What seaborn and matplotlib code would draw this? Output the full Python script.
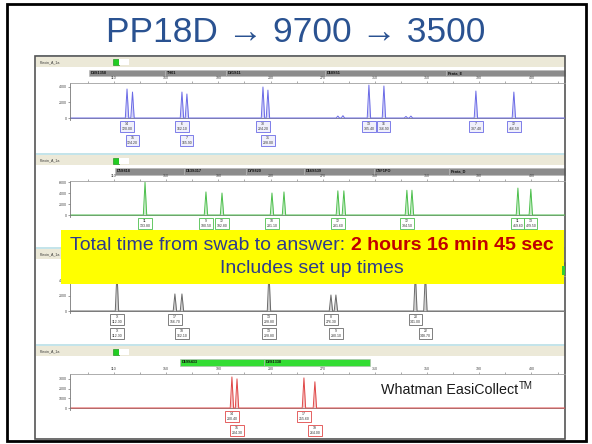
import matplotlib
matplotlib.use("Agg")
import pandas as pd
import matplotlib.pyplot as plt
import seaborn as sns
from matplotlib.patches import Rectangle

# ---------------- values ----------------
title = "PP18D \u2192 9700 \u2192 3500"
note_blue = "Total time from swab to answer:"
note_red = "2 hours 16 min 45 sec"
note_line2 = "Includes set up times"
kit_text = "Whatman EasiCollect"

tick_bp = [110, 150, 190, 230, 270, 310, 350, 390, 430]
minor_bp = [90, 130, 170, 210, 250, 290, 330, 370, 410, 450]

# blue dye
blue_loci = ["D3S1358", "TH01", "D21S11", "D18S51", "Penta_E"]
blue_bp = [120.0, 124.2, 162.1, 165.9, 224.2, 228.0, 305.4, 316.9, 387.4, 416.5]
blue_rfu = [3740, 3350, 3350, 3100, 4000, 3600, 4250, 4130, 3480, 3350]
blue_noise_bp = [281.6, 285.5, 333.8, 337.6]
blue_noise_rfu = [250, 300, 200, 250]
blue_lab_idx = [0, 1, 2, 3, 4, 5, 6, 7, 8, 9]
blue_lab_row = [0, 1, 0, 1, 0, 1, 0, 0, 0, 0]
blue_alleles = ["14", "15", "6", "7", "30", "31", "13", "16", "7", "12"]

# green dye (second label row is hidden behind the note)
green_loci = ["D5S818", "D13S317", "D7S820", "D16S539", "CSF1PO", "Penta_D"]
green_bp = [133.8, 180.5, 192.8, 231.1, 240.3, 281.6, 286.2, 334.5, 338.4, 419.6, 429.5]
green_rfu = [6000, 4200, 4000, 4000, 4200, 4400, 4400, 4500, 4500, 4900, 4700]
green_lab_idx = [0, 1, 2, 3, 5, 7, 9, 10]
green_lab_row = [0, 0, 0, 0, 0, 0, 0, 0]
green_alleles = ["11", "9", "12", "10", "12", "12", "11", "13"]

# yellow dye (drawn black); its locus bar is covered by the note
grey_bp = [112.3, 156.7, 162.1, 228.8, 276.3, 280.1, 341.0, 348.7]
grey_rfu = [5200, 2270, 2270, 5200, 2130, 2130, 5200, 5200]
grey_lab_idx = [0, 0, 1, 2, 3, 3, 4, 5, 6, 7]
grey_lab_row = [0, 1, 0, 1, 0, 1, 0, 1, 0, 1]
grey_alleles = ["X", "X", "17", "18", "13", "13", "8", "9", "20", "22"]

# red dye
red_loci = ["D19S433", "D2S1338"]
red_bp = [200.4, 204.3, 255.6, 264.0]
red_rfu = [3200, 3000, 3100, 2700]
red_lab_idx = [0, 1, 2, 3]
red_lab_row = [0, 1, 0, 1]
red_alleles = ["14", "15", "17", "19"]

# ---------------- layout (pixels) ----------------
W, H = 592, 444
X0, X1 = 70, 565            # trace area
BP_LO, BP_HI = 76.3, 455.7  # bp range across the trace area

panels = [
    dict(top=57, spine=83, base=118, vpp=129, yt=[0, 2000, 4000], col="#6b6be6",
         box="#f0f0fc", bp=blue_bp, rfu=blue_rfu, nbp=blue_noise_bp, nrfu=blue_noise_rfu,
         li=blue_lab_idx, lr=blue_lab_row, la=blue_alleles, xlab=True,
         loci=blue_loci, seg=[89, 165, 226, 325, 446, 565], segcol="#8c8c8c"),
    dict(top=155, spine=181, base=215, vpp=182, yt=[0, 2000, 4000, 6000], col="#4cbf4c",
         box="white", bp=green_bp, rfu=green_rfu, nbp=[], nrfu=[],
         li=green_lab_idx, lr=green_lab_row, la=green_alleles, xlab=True,
         loci=green_loci, seg=[115, 184, 246, 304, 374, 449, 565], segcol="#8c8c8c"),
    dict(top=249, spine=276, base=311, vpp=133, yt=[0, 2000, 4000], col="#6a6a6a",
         box="white", bp=grey_bp, rfu=grey_rfu, nbp=[], nrfu=[],
         li=grey_lab_idx, lr=grey_lab_row, la=grey_alleles, xlab=False,
         loci=[], seg=[100, 565], segcol="#8c8c8c"),
    dict(top=346, spine=374, base=408, vpp=103, yt=[0, 1000, 2000, 3000], col="#e04848",
         box="white", bp=red_bp, rfu=red_rfu, nbp=[], nrfu=[],
         li=red_lab_idx, lr=red_lab_row, la=red_alleles, xlab=True,
         loci=red_loci, seg=[180, 264, 370], segcol="#33dd33"),
]

sns.set_style("white")
plt.rcParams["font.family"] = ["Liberation Sans", "DejaVu Sans"]

fig = plt.figure(figsize=(W / 100, H / 100), dpi=100)


def px_axes(x0, y0, x1, y1, z):
    ax = fig.add_axes([x0 / W, 1 - y1 / H, (x1 - x0) / W, (y1 - y0) / H])
    ax.set_zorder(z)
    return ax


bg = px_axes(0, 0, W, H, 0)
bg.set_xlim(0, W)
bg.set_ylim(H, 0)
bg.axis("off")

# panel chrome: header strip, capture indicator, locus bars
for p in panels:
    t = p["top"]
    bg.add_patch(Rectangle((36, t - 2), 529, 1.5, fc="#c4e4ea", ec="none"))
    bg.add_patch(Rectangle((36, t), 529, 10, fc="#ece9d8", ec="none"))
    bg.text(40, t + 5, "Plexin_A_1a", fontsize=2.6, color="#333", va="center")
    bg.add_patch(Rectangle((113, t + 2.5), 6, 6, fc="#22cc22", ec="#118811", lw=0.4))
    bg.add_patch(Rectangle((119, t + 2.5), 10, 6, fc="white", ec="none"))
    s = p["seg"]
    for i in range(len(s) - 1):
        bg.add_patch(Rectangle((s[i], t + 13), s[i + 1] - s[i], 6.5,
                               fc=p["segcol"], ec="#b5b5b5", lw=0.4))
    for i, name in enumerate(p["loci"]):
        bg.text(s[i] + 2, t + 16.3, name, fontsize=2.8, weight="bold",
                color="#111", va="center")

# screenshot border and slide frame
bg.add_patch(Rectangle((35, 56), 530, 383, fc="none", ec="#555", lw=1.2))
bg.add_patch(Rectangle((7, 4), 579, 437, fc="none", ec="black", lw=2))

# electropherogram traces
HALF_W = 1.3
for p in panels:
    ax = px_axes(X0, p["spine"], X1, p["base"] + 2, 1)
    ax.patch.set_alpha(0)
    peaks = sorted(zip(list(p["bp"]) + list(p["nbp"]), list(p["rfu"]) + list(p["nrfu"])))
    xs, ys = [BP_LO], [0]
    for b, r in peaks:
        xs += [b - HALF_W, b, b + HALF_W]
        ys += [0, r, 0]
    xs.append(BP_HI)
    ys.append(0)
    df = pd.DataFrame({"bp": xs, "rfu": ys})
    ax.axhline(0, color="#8a8a8a", lw=0.7, zorder=1)
    ax.fill_between(df["bp"], df["rfu"], color=p["col"], alpha=0.3, lw=0)
    sns.lineplot(data=df, x="bp", y="rfu", color=p["col"], lw=0.7,
                 estimator=None, sort=False, ax=ax)
    ax.set_xlabel("")
    ax.set_ylabel("")
    ax.set_xlim(BP_LO, BP_HI)
    ax.set_ylim(-2 * p["vpp"], (p["base"] - p["spine"]) * p["vpp"])
    for side in ["right", "bottom"]:
        ax.spines[side].set_visible(False)
    ax.spines["left"].set_color("#777")
    ax.spines["left"].set_linewidth(0.6)
    ax.spines["top"].set_color("#a0a0a0")
    ax.spines["top"].set_linewidth(0.6)
    ax.xaxis.tick_top()
    ax.set_xticks(tick_bp)
    ax.set_xticks(minor_bp, minor=True)
    ax.tick_params(axis="x", which="both", length=1.5, width=0.5, color="#888",
                   labelsize=2.6, pad=1, labelcolor="#444", labeltop=p["xlab"])
    ax.set_yticks(p["yt"])
    ax.tick_params(axis="y", length=1.5, width=0.5, color="#777",
                   labelsize=2.6, pad=1, labelcolor="#444", left=True)
    ax.grid(False)
    for k, row, allele in zip(p["li"], p["lr"], p["la"]):
        b = p["bp"][k]
        ax.annotate(f"{allele}\n{b:.2f}", xy=(b, 0), xytext=(0, -4 - 14 * row),
                    textcoords="offset pixels", ha="center", va="top",
                    fontsize=2.5, color="#333", annotation_clip=False,
                    bbox=dict(boxstyle="square,pad=0.35", fc=p["box"],
                              ec=p["col"], lw=0.6))

# overlay: title, yellow note, kit name
ov = px_axes(0, 0, W, H, 5)
ov.set_xlim(0, W)
ov.set_ylim(H, 0)
ov.axis("off")

ov.text(296, 33, title, fontsize=25.5, color="#2a5291", ha="center", va="center")

ov.add_patch(Rectangle((61, 230), 503, 54, fc="#ffff00", ec="none"))
ov.add_patch(Rectangle((562, 266), 3, 9, fc="#33cc33", ec="none"))
FS = 14
ta = ov.text(0, 245, note_blue, fontsize=FS, color="#2d3b8e", ha="left", va="center")
tb = ov.text(0, 245, note_red, fontsize=FS, color="#c00000", weight="bold",
             ha="left", va="center")
ov.text(312, 268, note_line2, fontsize=FS, color="#2d3b8e", ha="center", va="center")

tk = ov.text(381, 390, kit_text, fontsize=10.3, color="#1a1a1a", ha="left", va="center")

fig.canvas.draw()
r = fig.canvas.get_renderer()
wa = ta.get_window_extent(r).width
wb = tb.get_window_extent(r).width
gap = FS * 1.389 * 0.28
start = 312 - (wa + gap + wb) / 2
ta.set_x(start)
tb.set_x(start + wa + gap)
wk = tk.get_window_extent(r).width
ov.text(381 + wk + 0.5, 386, "TM", fontsize=7, color="#1a1a1a", ha="left", va="center")

fig.savefig("out.png", dpi=100, facecolor="white")
